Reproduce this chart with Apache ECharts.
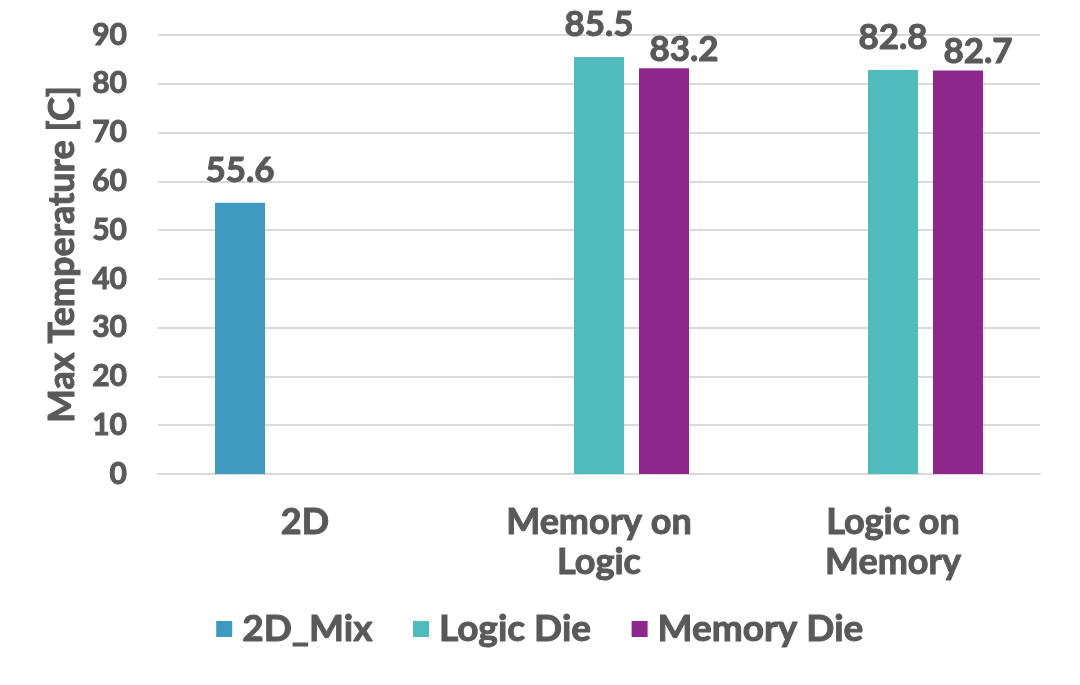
<!DOCTYPE html>
<html>
<head>
<meta charset="utf-8">
<script src="https://cdn.jsdelivr.net/npm/echarts@6/dist/echarts.min.js"></script>
<style>
  html, body { margin: 0; padding: 0; background: #fff; }
</style>
</head>
<body>
<div id="chart" style="width: 1080px; height: 685px;"></div>
<script>
const categories = ['2D', 'Memory on\nLogic', 'Logic on\nMemory'];
const mix2d = [55.6, null, null];
const logicDie = [null, 85.5, 82.8];
const memoryDie = [null, 83.2, 82.7];

const textColor = '#595959';
const font = 'Lato, "DejaVu Sans", sans-serif';

// heavier look: stroke the glyphs in the same colour
function txt(size, extra) {
    return Object.assign({
        color: textColor,
        fontFamily: font,
        fontWeight: 'bold',
        fontSize: size,
        textBorderColor: textColor,
        textBorderWidth: 1,
    }, extra || {});
}

const chart = echarts.init(document.getElementById('chart'));

function barSeries(name, data, color, labelDistance, labelOffset) {
    return {
        name: name,
        type: 'bar',
        data: data,
        barWidth: 50,
        barGap: '30%',
        itemStyle: { color: color },
        label: txt(35, {
            show: true,
            position: 'top',
            distance: labelDistance,
            offset: labelOffset,
        }),
    };
}

const option = {
    animation: false,
    textStyle: { fontFamily: font },
    grid: {
        left: 158,
        right: 40,
        top: 35,
        bottom: 211,
    },
    legend: {
        bottom: 32,
        left: 'center',
        icon: 'rect',
        itemWidth: 16,
        itemHeight: 16,
        itemGap: 40,
        textStyle: txt(37, { padding: [0, 0, 0, 5] }),
    },
    xAxis: {
        type: 'category',
        data: categories,
        axisLine: { show: true, lineStyle: { color: '#d9d9d9', width: 2 } },
        axisTick: { show: false },
        axisLabel: txt(36, { lineHeight: 40, margin: 28 }),
    },
    yAxis: {
        type: 'value',
        min: 0,
        max: 90,
        interval: 10,
        name: 'Max Temperature [C]',
        nameLocation: 'middle',
        nameGap: 77,
        nameTextStyle: txt(36),
        axisLine: { show: false },
        axisTick: { show: false },
        axisLabel: txt(30, { margin: 31 }),
        splitLine: { lineStyle: { color: '#d9d9d9', width: 2 } },
    },
    series: [
        barSeries('2D_Mix', mix2d, '#3f9abf', 15, [0, 0]),
        barSeries('Logic Die', logicDie, '#4fbbbd', 15, [0, 0]),
        barSeries('Memory Die', memoryDie, '#8e278c', 1, [20, 0]),
    ],
};

chart.setOption(option);
</script>
</body>
</html>
